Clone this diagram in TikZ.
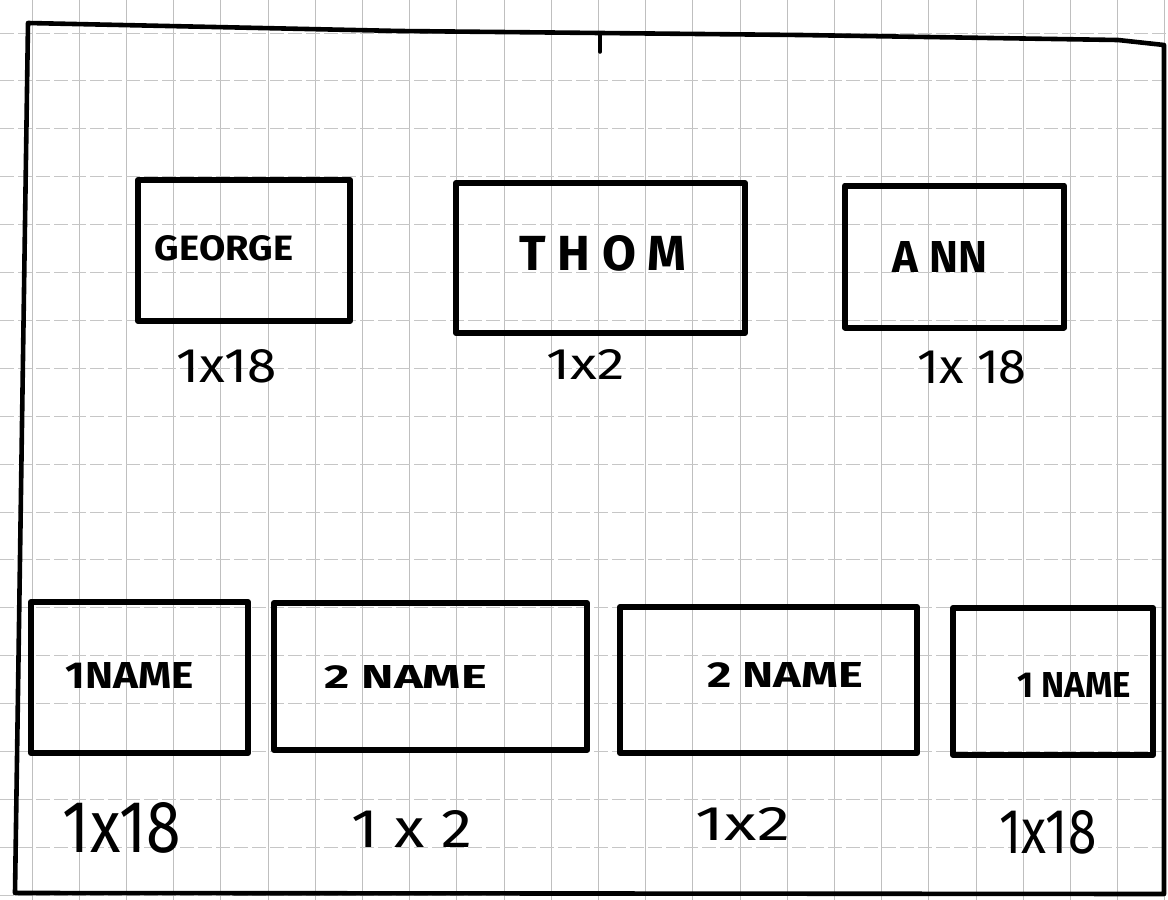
\documentclass[tikz,border=0pt]{standalone}
\usepackage{fontspec}
\setmainfont{Fira Sans}
\usepackage{graphicx}
\newcommand{\hwtext}[3]{\resizebox{#1pt}{#2pt}{#3}}
\begin{document}
\begin{tikzpicture}[x=1pt,y=-1pt,
  gridv/.style={gray!50, line width=0.9pt},
  gridh/.style={gray!45, line width=0.9pt, dash pattern=on 14pt off 4pt},
  frame/.style={line width=4.6pt, line join=round, line cap=round},
  namebox/.style={draw, rectangle, line width=6pt, line join=round, inner sep=0pt},
  nametext/.style={inner sep=0pt, font=\bfseries},
  sizetext/.style={inner sep=0pt}]
\useasboundingbox (0,0) rectangle (1168,900);
\fill[white] (0,0) rectangle (1168,900);
% grid paper
\foreach \k in {0,...,24} \draw[gridv] ({32+47.2*\k},0) -- ({32+47.2*\k},900);
\foreach \k in {0,...,18} \draw[gridh] (0,{33+47.9*\k}) -- (1168,{33+47.9*\k});
% outer frame
\coordinate (f1) at (28,23);
\coordinate (f2) at (400,31);
\coordinate (f3) at (800,35);
\coordinate (f4) at (1118,40);
\coordinate (f5) at (1164,45);
\coordinate (f6) at (1164,894);
\coordinate (f7) at (15,893);
\draw[frame] (f1) -- (f2) -- (f3) -- (f4) -- (f5) -- (f6) -- (f7) -- cycle;
\coordinate (t1) at (600,33);
\coordinate (t2) at (600,52);
\draw[line width=3.5pt, line cap=round] (t1) -- (t2);
% top row boxes
\node[namebox, minimum width=212pt, minimum height=141pt] (george) at (244,250.5) {};
\node[namebox, minimum width=289pt, minimum height=150pt] (thom) at (600.5,258) {};
\node[namebox, minimum width=219pt, minimum height=142pt] (ann) at (954.5,256.5) {};
\node[nametext] (georget) at (224,248) {\hwtext{138}{25}{GEORGE}};
\node[nametext] (thomt) at (603,253) {\hwtext{167}{35}{T H O M}};
\node[nametext] (annt) at (940,257) {\hwtext{94}{31}{A NN}};
\node[sizetext] (georges) at (227,366) {\hwtext{100}{33}{1x18}};
\node[sizetext] (thoms) at (586,364) {\hwtext{78}{30}{1x2}};
\node[sizetext] (anns) at (972,367) {\hwtext{109}{33}{1x 18}};
% bottom row boxes
\node[namebox, minimum width=217pt, minimum height=151pt] (b1) at (139.5,677.5) {};
\node[namebox, minimum width=313pt, minimum height=147pt] (b2) at (430.5,676.5) {};
\node[namebox, minimum width=297pt, minimum height=146pt] (b3) at (768.5,680) {};
\node[namebox, minimum width=200pt, minimum height=147pt] (b4) at (1053,681.5) {};
\node[nametext] (b1t) at (130,675) {\hwtext{128}{26}{1NAME}};
\node[nametext] (b2t) at (406,677) {\hwtext{162}{23}{2 NAME}};
\node[nametext] (b3t) at (785,675) {\hwtext{156}{25}{2 NAME}};
\node[nametext] (b4t) at (1074,685) {\hwtext{114}{25}{1 NAME}};
\node[sizetext] (b1s) at (122,828) {\hwtext{118}{50}{1x18}};
\node[sizetext] (b2s) at (412,829) {\hwtext{121}{37}{1 x 2}};
\node[sizetext] (b3s) at (743,824) {\hwtext{94}{33}{1x2}};
\node[sizetext] (b4s) at (1048,832) {\hwtext{97}{43}{1x18}};
\end{tikzpicture}
\end{document}
